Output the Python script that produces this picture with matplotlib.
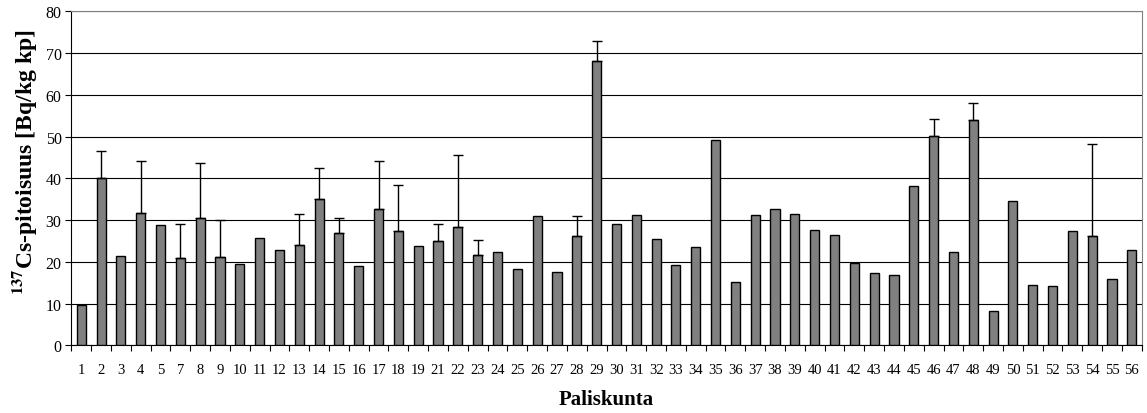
import numpy as np
import matplotlib.pyplot as plt

plt.rcParams['font.family'] = ['Liberation Serif', 'DejaVu Serif']
plt.rcParams['mathtext.fontset'] = 'stix'

# paliskunnat (6 ja 20 puuttuvat)
paliskunnat = [1, 2, 3, 4, 5, 7, 8, 9, 10, 11, 12, 13, 14, 15, 16, 17, 18, 19,
               21, 22, 23, 24, 25, 26, 27, 28, 29, 30, 31, 32, 33, 34, 35, 36,
               37, 38, 39, 40, 41, 42, 43, 44, 45, 46, 47, 48, 49, 50, 51, 52,
               53, 54, 55, 56]
# keskiarvo Bq/kg kp
pitoisuus = [9.7, 40.2, 21.4, 31.7, 28.9, 20.9, 30.6, 21.1, 19.5, 25.8, 22.9,
             24.0, 35.0, 27.0, 18.9, 32.7, 27.5, 23.7, 24.9, 28.4, 21.7, 22.4,
             18.4, 31.1, 17.6, 26.3, 68.2, 29.1, 31.2, 25.4, 19.3, 23.6, 49.3,
             15.2, 31.2, 32.7, 31.5, 27.7, 26.4, 19.7, 17.4, 16.8, 38.1, 50.2,
             22.3, 54.0, 8.2, 34.5, 14.4, 14.1, 27.3, 26.2, 16.0, 22.9]
# keskihajonnan yläraja, None = ei hajontaa
ylaraja = [None, 46.5, None, 44.2, None, 29.1, 43.6, 30.1, None, None, None,
           31.5, 42.5, 30.6, None, 44.2, 38.5, None, 29.1, 45.7, 25.3, None,
           None, None, None, 30.9, 72.9, None, None, None, None, None, None,
           None, None, None, None, None, None, None, None, None, None, 54.3,
           None, 58.0, None, None, None, None, None, 48.2, None, None]

x = np.arange(len(paliskunnat))
y = np.array(pitoisuus)
virhe = np.array([0 if u is None else u - v for u, v in zip(ylaraja, pitoisuus)])
mask = virhe > 0

fig = plt.figure(figsize=(11.47, 4.14), dpi=100)
ax = fig.add_axes([0.0622, 0.1635, 0.9332, 0.8065])

ax.bar(x, y, width=0.46, color='#808080', edgecolor='black', linewidth=1.0, zorder=3)
ax.errorbar(x[mask], y[mask], yerr=[np.zeros(mask.sum()), virhe[mask]],
            fmt='none', ecolor='black', elinewidth=1.0, capsize=3.5, capthick=1.0, zorder=4)

ax.set_xlim(-0.5, len(x) - 0.5)
ax.set_ylim(0, 80)
ax.set_yticks(np.arange(0, 81, 10))
ax.yaxis.grid(True, color='black', linewidth=0.8, zorder=0)
ax.set_axisbelow(True)

ax.set_xticks(x)
ax.set_xticklabels([str(p) for p in paliskunnat])
ax.set_xticks(np.arange(-0.5, len(x), 1.0), minor=True)
ax.tick_params(axis='x', which='major', length=0, pad=13, labelsize=10.5)
ax.tick_params(axis='x', which='minor', length=4, direction='out', width=0.8)
ax.tick_params(axis='y', length=4, direction='out', width=0.8, pad=3, labelsize=11.5)

for s in ['top', 'right']:
    ax.spines[s].set_color('#808080')
ax.spines['left'].set_color('black')
ax.spines['bottom'].set_color('black')

ax.set_ylabel('$^{\\mathbf{137}}$Cs-pitoisuus [Bq/kg kp]', fontsize=17, fontweight='bold')
ax.yaxis.set_label_coords(-0.03, 0.55)
ax.set_xlabel('Paliskunta', fontsize=15, fontweight='bold', labelpad=9)

fig.savefig('out.png', dpi=100)
